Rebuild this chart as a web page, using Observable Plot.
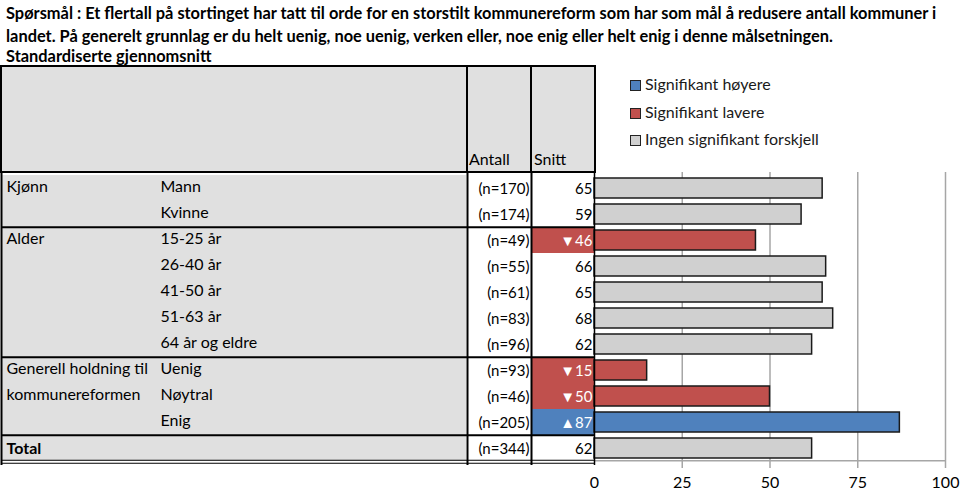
<!DOCTYPE html>
<html>
<head>
<meta charset="utf-8">
<script src="https://cdn.jsdelivr.net/npm/d3@7"></script>
<script src="https://cdn.jsdelivr.net/npm/@observablehq/plot@0.6"></script>
<style>
  html, body { margin: 0; padding: 0; background: #fff; }
  #page { position: relative; width: 960px; height: 492px; overflow: hidden; font-family: Lato, "Open Sans", sans-serif; color: #000; }
  #title { position: absolute; left: 6px; top: 1px; width: 955px; font-weight: bold; font-size: 16.4px; line-height: 23px; white-space: nowrap; }
  #subtitle { position: absolute; left: 6px; top: 47px; font-weight: bold; font-size: 16.4px; line-height: 17px; white-space: nowrap; }
  .hbox { position: absolute; top: 65px; height: 108px; background: #e0e0e0; border: 2px solid #000; box-sizing: border-box; }
  .htxt { position: absolute; top: 148px; font-size: 16px; line-height: 22px; }
  .leg { position: absolute; left: 630px; font-size: 16px; line-height: 20px; color: #1a1a1a; white-space: nowrap; }
  .leg i { display: inline-block; width: 11px; height: 11px; border: 1px solid #222; box-sizing: border-box; margin-right: 4px; vertical-align: -1px; }
  #chart { position: absolute; left: 0; top: 172px; }
</style>
</head>
<body>
<div id="page">
  <div id="title">Spørsmål : Et flertall på stortinget har tatt til orde for en storstilt kommunereform som har som mål å redusere antall kommuner i<br>landet. På generelt grunnlag er du helt uenig, noe uenig, verken eller, noe enig eller helt enig i denne målsetningen.</div>
  <div id="subtitle">Standardiserte gjennomsnitt</div>
  <div class="hbox" style="left:0px;width:468px;"></div>
  <div class="hbox" style="left:466px;width:66px;"></div>
  <div class="hbox" style="left:530px;width:66px;"></div>
  <div class="htxt" style="left:469px;">Antall</div>
  <div class="htxt" style="left:534px;">Snitt</div>
  <div class="leg" style="top:74px;"><i style="background:#4f81bd"></i>Signifikant høyere</div>
  <div class="leg" style="top:102px;"><i style="background:#c0504d"></i>Signifikant lavere</div>
  <div class="leg" style="top:129px;"><i style="background:#d0d0d0"></i>Ingen signifikant forskjell</div>
  <div id="chart"></div>
</div>
<script>
// ---- data ----
const groups = ["Kjønn", "", "Alder", "", "", "", "", "Generell holdning til", "kommunereformen", "", "Total"];
const labels = ["Mann", "Kvinne", "15-25 år", "26-40 år", "41-50 år", "51-63 år", "64 år og eldre", "Uenig", "Nøytral", "Enig", ""];
const counts = [170, 174, 49, 55, 61, 83, 96, 93, 46, 205, 344];
const means = [65, 59, 46, 66, 65, 68, 62, 15, 50, 87, 62];
const significance = ["none", "none", "lower", "none", "none", "none", "none", "lower", "lower", "higher", "none"];
const groupStartRows = [2, 7, 10];
const xTicks = [0, 25, 50, 75, 100];

const colors = {higher: "#4f81bd", lower: "#c0504d", none: "#d0d0d0"};
const rows = labels.map((label, i) => ({
  id: String(i), group: groups[i], label, n: counts[i], mean: means[i], sig: significance[i]
}));
const ids = rows.map(d => d.id);

// ---- layout ----
const W = 960, H = 320, mL = 594, mR = 15, mT = 0, mB = 29;
const frameW = W - mL - mR;
const rowH = (H - mT - mB) / rows.length;
const fontFamily = "Lato, 'Open Sans', sans-serif";

const sepRows = rows.filter((d, i) => groupStartRows.includes(i));
const lastRow = [rows[rows.length - 1]];
const sigRows = rows.filter(d => d.sig !== "none");
const arrow = d => d.sig === "higher" ? "▲" : d.sig === "lower" ? "▼" : "";

const chart = Plot.plot({
  width: W, height: H,
  marginLeft: mL, marginRight: mR, marginTop: mT, marginBottom: mB,
  style: {fontFamily, fontSize: "16px", color: "#000", background: "transparent", overflow: "visible"},
  x: {domain: [0, 100], ticks: xTicks, tickSize: 0, tickPadding: 13, label: null, tickFormat: d => String(d)},
  y: {type: "band", domain: ids, padding: 0, axis: null},
  marks: [
    // left label section background
    Plot.cell(rows, {y: "id", fill: "#e0e0e0", insetLeft: -(mL - 1), insetRight: frameW + 128}),
    // significance cells in Snitt column
    Plot.cell(sigRows, {y: "id", fill: d => colors[d.sig], insetLeft: -63, insetRight: frameW}),
    // gridlines and ticks
    Plot.ruleX(xTicks.slice(1), {stroke: "#a6a6a6", strokeWidth: 1.5, insetBottom: -5}),
    Plot.ruleY(lastRow, {y: "id", dy: rowH / 2 - 1, stroke: "#a6a6a6", strokeWidth: 1.5}),
    // bars
    Plot.barX(rows, {x: "mean", y: "id", fill: d => colors[d.sig], stroke: "#1a1a1a", strokeWidth: 1.5, insetTop: 3, insetBottom: 3}),
    // table vertical lines
    Plot.ruleX([0], {dx: -(mL - 1), stroke: "#000", strokeWidth: 2, insetBottom: -2}),
    Plot.ruleX([0], {dx: -(mL - 467), stroke: "#000", strokeWidth: 2, insetBottom: -2}),
    Plot.ruleX([0], {dx: -(mL - 531), stroke: "#000", strokeWidth: 2, insetBottom: -2}),
    Plot.ruleX([0], {dx: 0, stroke: "#000", strokeWidth: 1.5, insetBottom: -2}),
    // table horizontal separators
    Plot.ruleY(sepRows, {y: "id", dy: -rowH / 2, insetLeft: -(mL - 1), insetRight: frameW, stroke: "#000", strokeWidth: 2}),
    Plot.ruleY(lastRow, {y: "id", dy: rowH / 2 - 1.5, insetLeft: -(mL - 1), insetRight: frameW, stroke: "#000", strokeWidth: 1.2}),
    Plot.ruleY(lastRow, {y: "id", dy: rowH / 2 + 1.5, insetLeft: -(mL - 1), insetRight: frameW, stroke: "#000", strokeWidth: 1.2}),
    // text columns
    Plot.text(rows.filter(d => d.group !== "Total"), {y: "id", text: "group", frameAnchor: "left", dx: -(mL - 6), textAnchor: "start", fontSize: 16, fill: "#000", dy: -2}),
    Plot.text(rows.filter(d => d.group === "Total"), {y: "id", text: "group", frameAnchor: "left", dx: -(mL - 6), textAnchor: "start", fontSize: 16, fontWeight: "bold", fill: "#000"}),
    Plot.text(rows, {y: "id", text: "label", frameAnchor: "left", dx: -(mL - 160), textAnchor: "start", fontSize: 16, fill: "#000", dy: -2}),
    Plot.text(rows, {y: "id", text: d => `(n=${d.n})`, frameAnchor: "left", dx: -65, textAnchor: "end", fontSize: 15, fill: "#000", dy: 1}),
    Plot.text(rows, {y: "id", text: d => arrow(d) + d.mean, frameAnchor: "left", dx: -2, textAnchor: "end", fontSize: 15, fill: d => d.sig === "none" ? "#000" : "#fff", dy: 1})
  ]
});
document.getElementById("chart").appendChild(chart);
</script>
</body>
</html>
